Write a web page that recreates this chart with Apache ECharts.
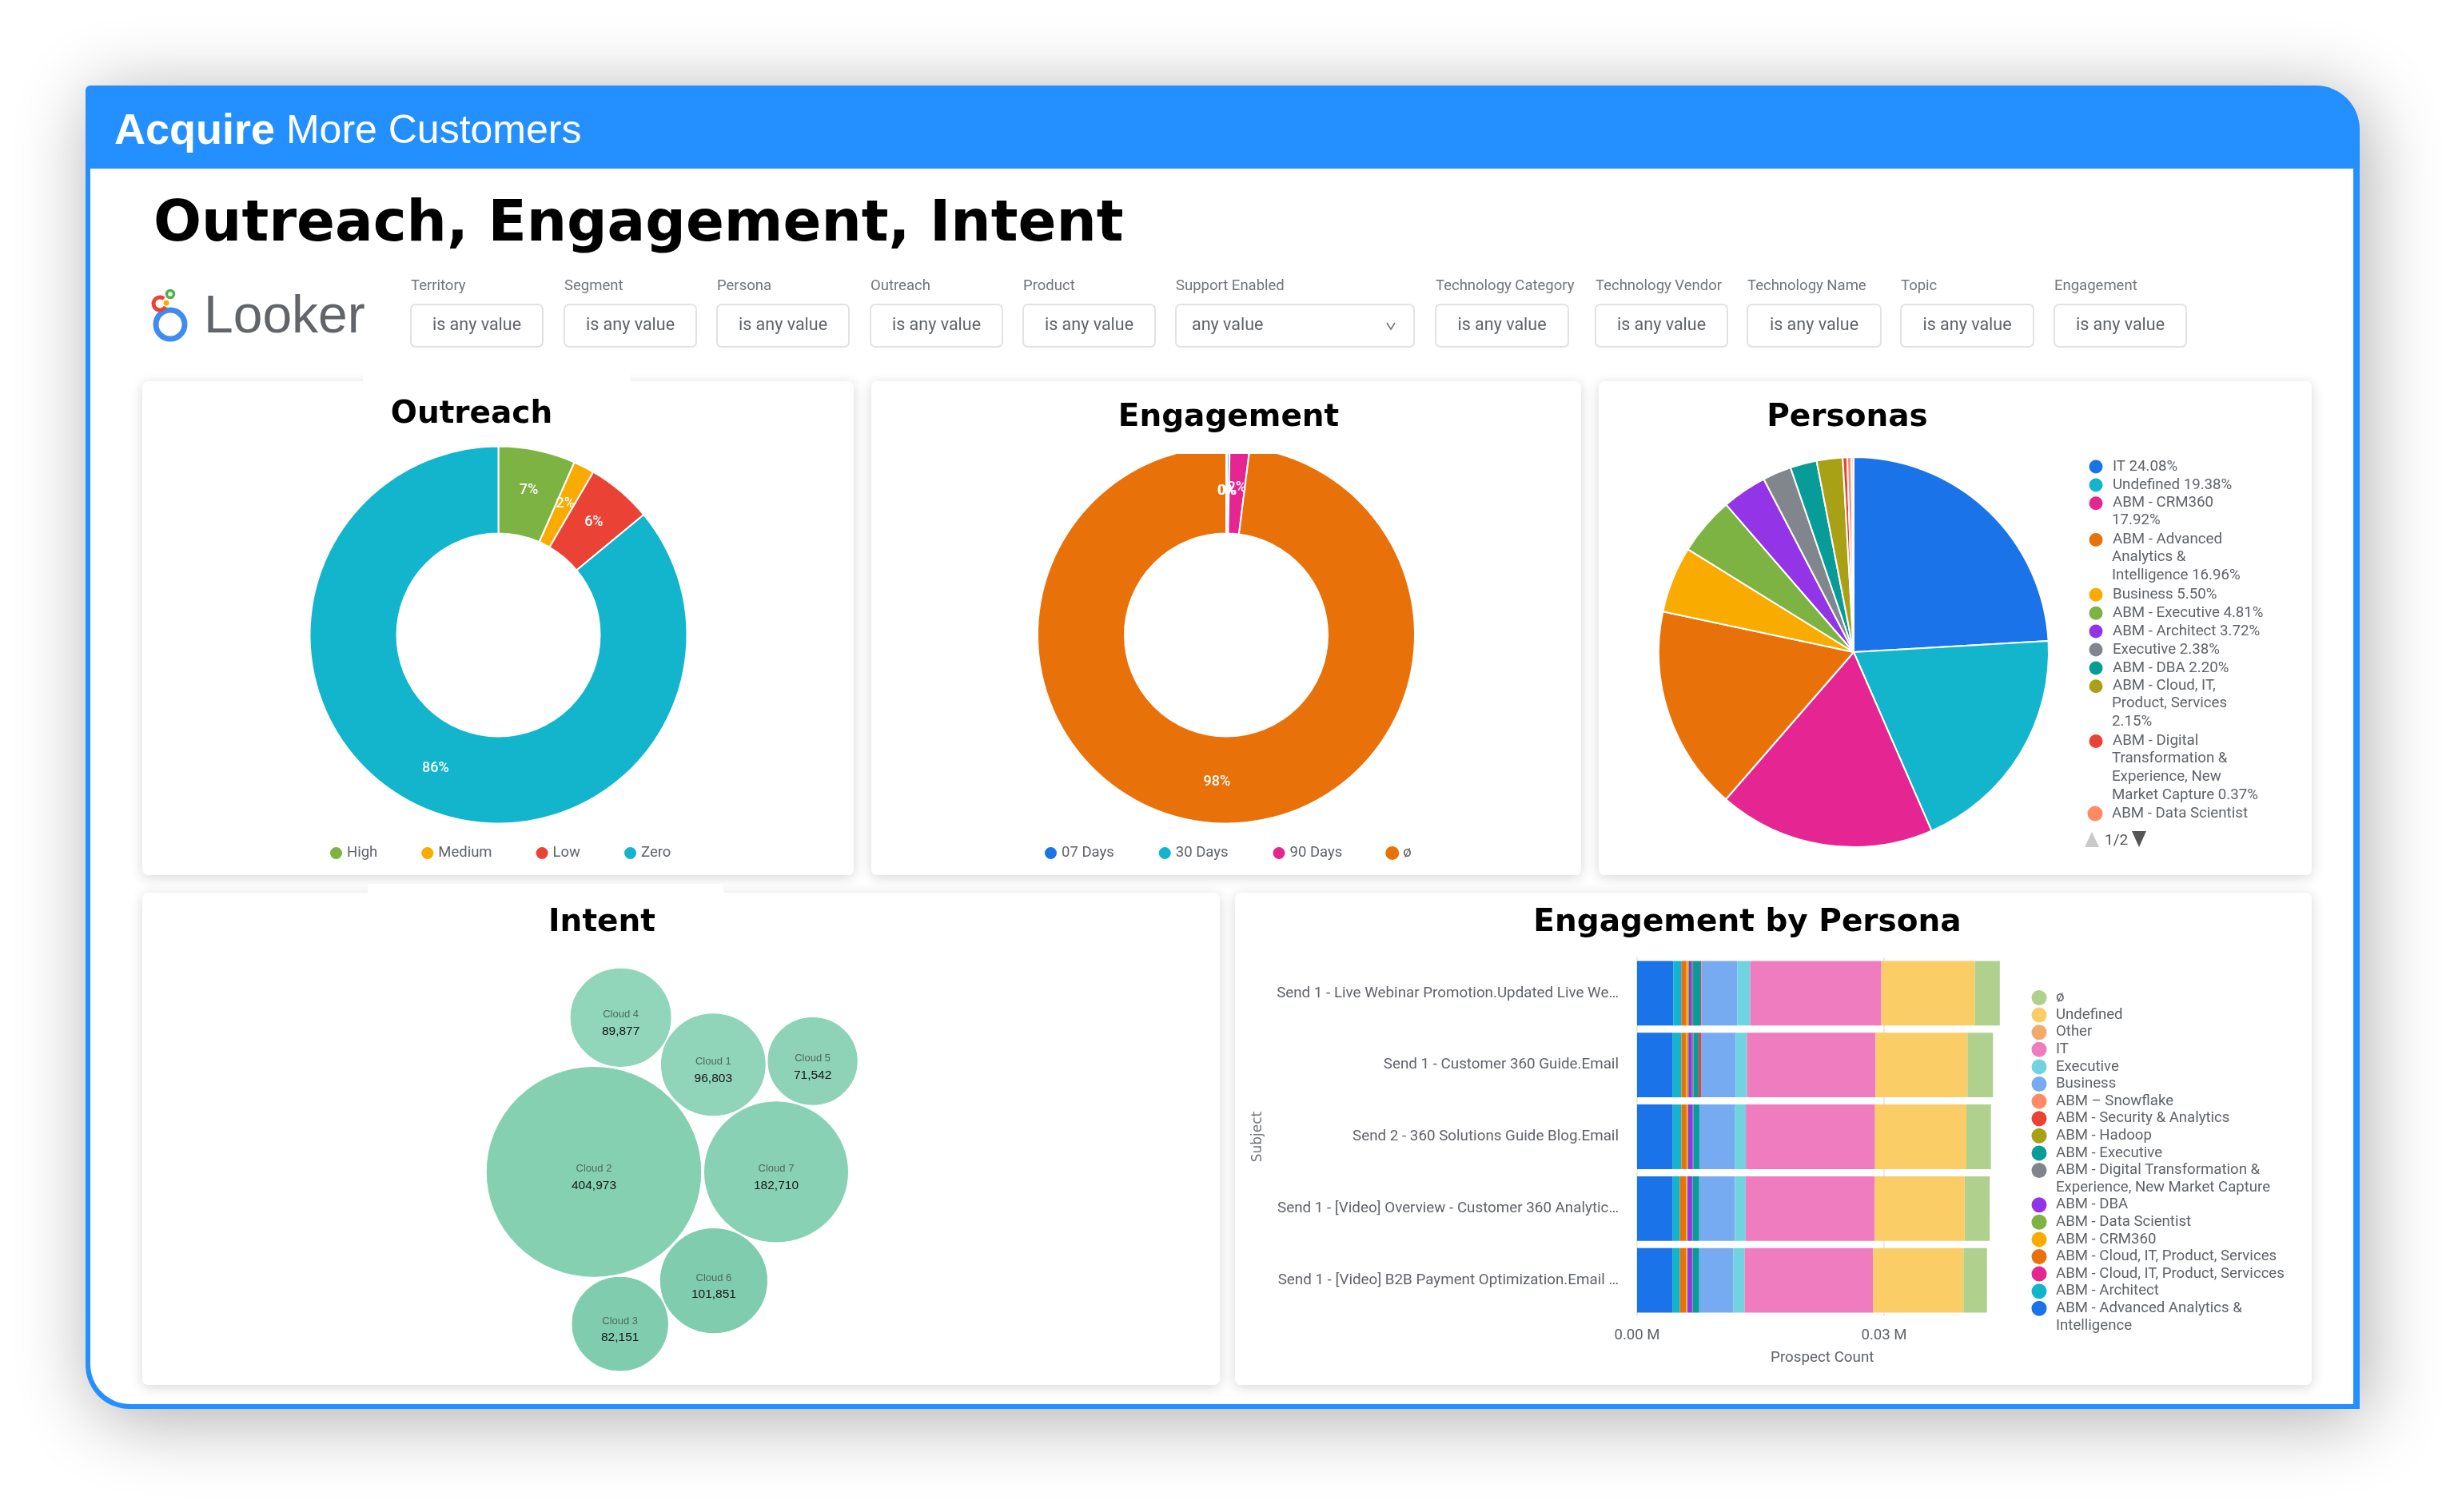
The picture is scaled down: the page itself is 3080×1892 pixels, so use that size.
<!doctype html>
<html><head><meta charset="utf-8">
<style>html,body{margin:0;padding:0;background:#fff;overflow:hidden}#c{width:3080px;height:1892px}</style>
<script src="https://cdn.jsdelivr.net/npm/echarts@6/dist/echarts.min.js"></script>
</head><body><div id="c"></div>
<script>
// ---------- data ----------
const outreachNames = ['High','Medium','Low','Zero'];
const outreachValues = [6.6,1.8,5.6,86.0];
const engagementNames = ['07 Days','30 Days','90 Days','ø'];
const engagementValues = [0.1,0.2,1.7,98.0];
const personaLines = [
  ['IT 24.08%'],['Undefined 19.38%'],['ABM - CRM360','17.92%'],
  ['ABM - Advanced','Analytics &','Intelligence 16.96%'],['Business 5.50%'],
  ['ABM - Executive 4.81%'],['ABM - Architect 3.72%'],['Executive 2.38%'],
  ['ABM - DBA 2.20%'],['ABM - Cloud, IT,','Product, Services','2.15%'],
  ['ABM - Digital','Transformation &','Experience, New','Market Capture 0.37%'],
  ['ABM - Data Scientist']
];
const personaValues = [24.08,19.38,17.92,16.96,5.50,4.81,3.72,2.38,2.20,2.15,0.37,0.35];
const personaRest = 0.18;
const bubbleNames = ['Cloud 4','Cloud 1','Cloud 5','Cloud 2','Cloud 7','Cloud 6','Cloud 3'];
const bubbleValues = [89877,96803,71542,404973,182710,101851,82151];
const bubbleX = [598.6,714.3,838.6,565,793,714.9,597.7];
const bubbleY = [156.3,215.2,210.8,349.4,349.4,485.7,539.7];
const subjects = ['Send 1 - Live Webinar Promotion.Updated Live We…','Send 1 - Customer 360 Guide.Email','Send 2 - 360 Solutions Guide Blog.Email','Send 1 - [Video] Overview - Customer 360 Analytic…','Send 1 - [Video] B2B Payment Optimization.Email …'];
const stackNames = ['ABM - Advanced Analytics & Intelligence','ABM - Architect','ABM - Cloud, IT, Product, Servicces','ABM - Cloud, IT, Product, Services','ABM - CRM360','ABM - Data Scientist','ABM - DBA','ABM - Digital Transformation & Experience, New Market Capture','ABM - Executive','ABM - Hadoop','ABM - Security & Analytics','ABM – Snowflake','Business','Executive','IT','Other','Undefined','ø'];
const sAdv=[4400,4340,4340,4340,4280], sArch=[990,1050,1050,870,930], sServ2=[40,0,0,0,0], sServ=[560,560,620,740,740], sCrm=[190,170,140,120,120], sData=[120,120,60,60,60], sDba=[310,430,560,560,560], sDig=[190,180,60,60,60], sExecA=[870,620,740,800,800], sHad=[0,0,0,0,0], sSec=[120,300,0,0,0], sSnow=[0,0,0,0,0], sBus=[4400,4220,4280,4340,4150], sExec=[1550,1360,1360,1300,1360], sIT=[15930,15620,15690,15690,15620], sOther=[0,0,0,0,0], sUnd=[11350,11160,11100,10910,10970], sNull=[3040,3100,2980,3040,2850];
const stackValues = [sAdv,sArch,sServ2,sServ,sCrm,sData,sDba,sDig,sExecA,sHad,sSec,sSnow,sBus,sExec,sIT,sOther,sUnd,sNull];
const barLegendLines = [['ø'],['Undefined'],['Other'],['IT'],['Executive'],['Business'],['ABM – Snowflake'],['ABM - Security & Analytics'],['ABM - Hadoop'],['ABM - Executive'],['ABM - Digital Transformation &','Experience, New Market Capture'],['ABM - DBA'],['ABM - Data Scientist'],['ABM - CRM360'],['ABM - Cloud, IT, Product, Services'],['ABM - Cloud, IT, Product, Servicces'],['ABM - Architect'],['ABM - Advanced Analytics &','Intelligence']];
const filterLabels = ['Territory','Segment','Persona','Outreach','Product','Support Enabled','Technology Category','Technology Vendor','Technology Name','Topic','Engagement'];
const filterValues = ['is any value','is any value','is any value','is any value','is any value','any value','is any value','is any value','is any value','is any value','is any value'];

// ---------- styles ----------
const C={blue:'#1a73e8',teal:'#12b5cb',pink:'#e52592',orange:'#e8710a',amber:'#f9ab00',green:'#7cb342',purple:'#9334e6',gray:'#80868b',dteal:'#079c98',olive:'#a8a116',red:'#ea4335',salmon:'#ff8a65'};
const personaColors=[C.blue,C.teal,C.pink,C.orange,C.amber,C.green,C.purple,C.gray,C.dteal,C.olive,C.red,C.salmon];
const stackColors=[C.blue,C.teal,C.pink,C.orange,C.amber,C.green,C.purple,C.gray,C.dteal,C.olive,C.red,C.salmon,'#76abf1','#71d3e0','#ef7cbe','#f1aa6c','#fbcd66','#b0d18e'];
const bubbleColors=['#91d5ba','#90d4b9','#8ed3b8','#86d0b2','#88d1b4','#80ccae','#80ccae'];
const hdr='#248fff', txt='#5f6368', F='Roboto';
const title=(text,cx,top,size)=>({text,left:cx,top,textAlign:'center',padding:0,textStyle:{fontFamily:'DejaVu Sans',fontWeight:700,fontSize:size||39,color:'#000'}});

const G=[];
G.push({type:'rect',z:-30,shape:{x:107,y:107,width:2845,height:1656,r:[6,55,0,55]},style:{fill:hdr,shadowBlur:95,shadowColor:'rgba(0,0,0,.33)',shadowOffsetX:8,shadowOffsetY:12}});
G.push({type:'rect',z:-29,shape:{x:113,y:211,width:2831,height:1546,r:[0,0,0,50]},style:{fill:'#fff'}});
[[178,477,890,618],[1090,477,888,618],[2000,477,892,618],[178,1117,1348,616],[1545,1117,1347,616]].forEach(r=>{
  G.push({type:'rect',z:-28,shape:{x:r[0],y:r[1],width:r[2],height:r[3],r:7},style:{fill:'#fff',shadowBlur:16,shadowColor:'rgba(0,0,0,.16)',shadowOffsetY:3}});
});
G.push({type:'rect',z:-27,shape:{x:454,y:466,width:335,height:11},style:{fill:'#fff'}});
G.push({type:'rect',z:-27,shape:{x:460,y:1106,width:445,height:11},style:{fill:'#fff'}});
// logo
G.push({type:'circle',z:-20,shape:{cx:213,cy:406,r:18},style:{fill:'none',stroke:'#3f8cf0',lineWidth:7}});
G.push({type:'arc',z:-20,shape:{cx:200,cy:380,r:8,startAngle:0.5,endAngle:5.4,clockwise:true},style:{fill:'none',stroke:'#ea4335',lineWidth:5}});
G.push({type:'circle',z:-20,shape:{cx:213,cy:368,r:4.5},style:{fill:'none',stroke:'#4caf50',lineWidth:3.5}});
G.push({type:'circle',z:-20,shape:{cx:208,cy:379,r:3.5},style:{fill:'#f9ab00'}});
const T=(text,x,y,o,z)=>G.push({type:'text',z:z===undefined?-5:z,x,y,style:Object.assign({text,fill:txt,fontFamily:F,fontSize:18,textAlign:'left',textVerticalAlign:'middle',verticalAlign:'middle'},o||{})});
T('Looker',255,398,{fontFamily:'Liberation Sans',fontSize:66,fill:'#616468'});
// filters
const fx=[514,706,897,1089,1280,1471,1796,1996,2186,2378,2570], fw=[165,165,165,165,165,298,166,165,167,166,165];
filterLabels.forEach((l,i)=>{
  T(l,fx[i],358.5,{fontSize:18.5,fill:'#70757a'});
  G.push({type:'rect',z:-10,shape:{x:fx[i],y:381,width:fw[i],height:53,r:6},style:{fill:'#fff',stroke:'#e0e2e6',lineWidth:2}});
  if(i===5) T(filterValues[i],fx[i]+20,408,{fontSize:21.5});
  else T(filterValues[i],fx[i]+fw[i]/2,408,{fontSize:21.5,textAlign:'center'});
});
G.push({type:'polyline',z:-5,shape:{points:[[1735,404],[1740,412],[1745,404]]},style:{fill:'none',stroke:'#70757a',lineWidth:1.6}});
// flat top of the Engagement donut
G.push({type:'rect',z:20,shape:{x:1290,y:552,width:490,height:16},style:{fill:'#fff'}});
// the two 0% labels of the hairline Engagement slices, overlapping as in the reference
const zeroLabel={fontSize:18,fontWeight:500,fill:'#fff',textAlign:'center'};
T(Math.round(engagementValues[0])+'%',1534.5,614,zeroLabel,21);
T(Math.round(engagementValues[1])+'%',1535.5,614,zeroLabel,21);
// pager
G.push({type:'polygon',z:-5,shape:{points:[[2608,1060],[2626,1060],[2617,1041]]},style:{fill:'#c9c9c9'}});
G.push({type:'polygon',z:-5,shape:{points:[[2667,1040],[2685,1040],[2676,1060]]},style:{fill:'#555'}});
T('1/2',2633,1052,{fontSize:19,fill:'#555'});

// legends
const legends=[];
const lg=(names,colors,left,top,gap)=>legends.push({orient:'horizontal',left,top,padding:0,itemWidth:17,itemHeight:17,itemGap:gap,icon:'circle',selectedMode:false,textStyle:{fontFamily:F,fontSize:18.5,color:txt},data:names.map((n,i)=>({name:n,itemStyle:{color:colors[i]}}))});
lg(outreachNames,[C.green,C.amber,C.red,C.teal],411,1058,53);
lg(engagementNames,[C.blue,C.teal,C.pink,C.orange],1305,1058,54);
function column(lines,colors,cx,textX,y0,pitch,names,size,r){
  let row=0;
  lines.forEach((ln,i)=>{
    const first=ln[0];
    legends.push({orient:'vertical',left:cx-r,top:y0+row*pitch-r,padding:0,itemWidth:2*r,itemHeight:2*r,icon:'circle',selectedMode:false,
      textStyle:{fontFamily:F,fontSize:size,color:txt,padding:[0,0,0,textX-cx-r-5]},formatter:()=>first,
      data:[{name:names[i],itemStyle:{color:colors[i]}}]});
    ln.slice(1).forEach((t,k)=>T(t,textX,y0+(row+k+1)*pitch,{fontSize:size}));
    row+=ln.length;
  });
}
const personaNames=personaLines.map(l=>l.join(' '));
column(personaLines,personaColors,2621,2642,583,22.9,personaNames,18.7,9.5);
const barLegendNames=barLegendLines.map(l=>l.join(' '));
const barLegendColors=stackColors.slice().reverse();
column(barLegendLines,barLegendColors,2551,2572,1248.5,21.6,barLegendNames,18.6,9.5);

const pieBase={type:'pie',startAngle:90,clockwise:true,silent:true,avoidLabelOverlap:false,minShowLabelAngle:0,labelLine:{show:false},emphasis:{disabled:true},itemStyle:{borderColor:'#fff',borderWidth:2}};
const pieLabel={show:true,position:'inside',formatter:p=>Math.round(p.value)+'%',color:'#fff',fontFamily:F,fontSize:18,fontWeight:500};
const option={
  animation:false,backgroundColor:'#fff',
  graphic:{elements:G},
  legend:legends,
  title:[
    {text:'{a|Acquire}{b| More Customers}',left:143,top:138,padding:0,textStyle:{color:'#fff',fontFamily:'Liberation Sans',fontWeight:400,rich:{a:{fontFamily:'Liberation Sans',fontWeight:700,fontSize:54,color:'#fff'},b:{fontFamily:'Liberation Sans',fontWeight:400,fontSize:50,color:'#fff'}}}},
    {text:'Outreach, Engagement, Intent',left:192,top:247,padding:0,textStyle:{fontFamily:'DejaVu Sans',fontWeight:700,fontSize:70.7,color:'#000'}},
    title('Outreach',590,499),title('Engagement',1537,503),title('Personas',2311,503),title('Intent',753,1135),title('Engagement by Persona',2186,1135)
  ],
  grid:[{left:2048,top:1198,width:463.5,height:449},{left:178,top:1117,width:1348,height:616,show:false}],
  xAxis:[
    {gridIndex:0,type:'value',min:0,max:45000,interval:30000,name:'Prospect Count',nameLocation:'middle',nameGap:43,nameTextStyle:{fontFamily:F,fontSize:18.8,color:txt},axisLine:{show:false},axisTick:{show:false},
      axisLabel:{showMaxLabel:false,margin:15,fontFamily:F,fontSize:18.6,color:txt,formatter:v=>(v/1e6).toFixed(2)+' M'},splitLine:{show:true,showMaxLine:false,lineStyle:{color:'#e8eaed',width:2}}},
    {gridIndex:1,type:'value',min:0,max:1348,show:false}
  ],
  yAxis:[
    {gridIndex:0,type:'category',inverse:true,data:subjects,name:'Subject',nameLocation:'middle',nameGap:466,nameRotate:90,nameTextStyle:{fontFamily:'DejaVu Sans',fontSize:17,color:'#70757a'},axisLine:{show:false},axisTick:{show:false},axisLabel:{margin:23,fontFamily:F,fontSize:18.8,color:txt,interval:0}},
    {gridIndex:1,type:'value',min:0,max:616,inverse:true,show:false}
  ],
  series:[
    Object.assign({},pieBase,{center:[623.5,794.5],radius:[127,236],label:pieLabel,data:outreachNames.map((n,i)=>({name:n,value:outreachValues[i],itemStyle:{color:[C.green,C.amber,C.red,C.teal][i]}}))}),
    Object.assign({},pieBase,{center:[1534,794.5],radius:[127,236],label:pieLabel,data:engagementNames.map((n,i)=>({name:n,value:engagementValues[i],itemStyle:{color:[C.blue,C.teal,C.pink,C.orange][i]}}))}),
    Object.assign({},pieBase,{center:[2319,816],radius:[0,244],label:{show:false},data:personaNames.map((n,i)=>({name:n,value:personaValues[i],itemStyle:{color:personaColors[i]}})).concat([{name:'ABM - Security & Analytics (next page)',value:personaRest,itemStyle:{color:'#f5c6bb'}}])}),
    {type:'scatter',xAxisIndex:1,yAxisIndex:1,silent:true,symbol:'circle',
      symbolSize:v=>[0.4236*Math.sqrt(v[2]),0.4236*0.978*Math.sqrt(v[2])],
      itemStyle:{borderColor:'#fff',borderWidth:1,opacity:1},
      label:{show:true,position:'inside',offset:[0,7],formatter:p=>'{a|'+p.name+'}\n{b|'+p.value[2].toLocaleString('en-US')+'}',rich:{a:{fontFamily:'Liberation Sans',fontSize:13,color:'#4c6b5e',lineHeight:21,align:'center'},b:{fontFamily:'Liberation Sans',fontSize:15.5,color:'#161616',lineHeight:21,align:'center'}}},
      data:bubbleNames.map((n,i)=>({name:n,value:[bubbleX[i],bubbleY[i],bubbleValues[i]],itemStyle:{color:bubbleColors[i]}}))},
    ...stackNames.map((n,i)=>({type:'bar',name:n,stack:'s',xAxisIndex:0,yAxisIndex:0,barCategoryGap:'10%',silent:true,itemStyle:{color:stackColors[i]},data:stackValues[i]}))
  ]
};
echarts.init(document.getElementById('c'),null,{renderer:'canvas'}).setOption(option);
</script></body></html>
